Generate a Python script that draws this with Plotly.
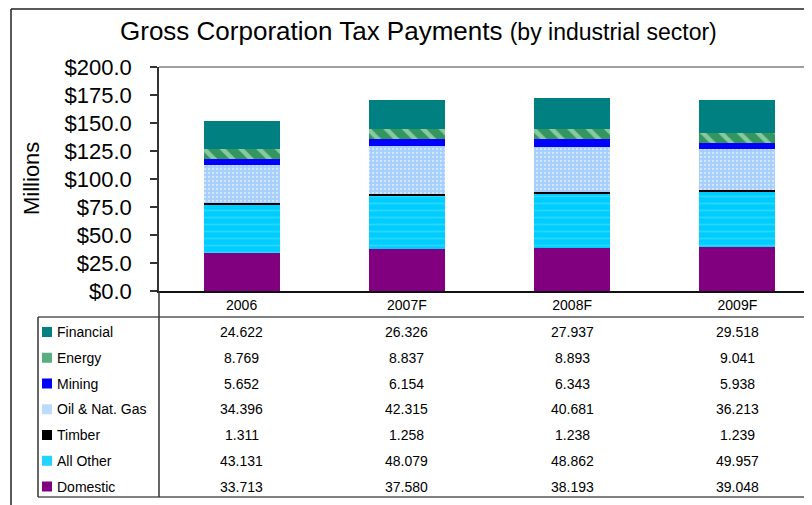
import plotly.graph_objects as go

W, H = 812, 505
OFF = 8  # page body margin compensation

categories = ["2006", "2007F", "2008F", "2009F"]

# stacking order, bottom to top
domestic = [33.713, 37.580, 38.193, 39.048]
all_other = [43.131, 48.079, 48.862, 49.957]
timber = [1.311, 1.258, 1.238, 1.239]
oil_gas = [34.396, 42.315, 40.681, 36.213]
mining = [5.652, 6.154, 6.343, 5.938]
energy = [8.769, 8.837, 8.893, 9.041]
financial = [24.622, 26.326, 27.937, 29.518]

series_names = ["Domestic", "All Other", "Timber", "Oil & Nat. Gas", "Mining", "Energy", "Financial"]
series_values = [domestic, all_other, timber, oil_gas, mining, energy, financial]

y_ticks = [0, 25, 50, 75, 100, 125, 150, 175, 200]

styles = {
    "Domestic": dict(color="#800080"),
    "All Other": dict(color="#00ccff", pattern=dict(shape="-", bgcolor="#00ccff", fgcolor="#4fe3ff", size=7, solidity=0.25)),
    "Timber": dict(color="#000000"),
    "Oil & Nat. Gas": dict(color="#a6cfff", pattern=dict(shape=".", bgcolor="#a6cfff", fgcolor="#ffffff", size=4, solidity=0.25)),
    "Mining": dict(color="#0000ff"),
    "Energy": dict(color="#33955f", pattern=dict(shape="\\", bgcolor="#33955f", fgcolor="#dcffdc", size=13, solidity=0.35)),
    "Financial": dict(color="#008080"),
}
key_colors = {
    "Domestic": "#800080", "All Other": "#22d4ff", "Timber": "#000000",
    "Oil & Nat. Gas": "#bcdcff", "Mining": "#0000ff", "Energy": "#5aae80", "Financial": "#008080",
}


def px(x):
    return (x - OFF) / W


def py(y):
    return 1 - (y - OFF) / H


fig = go.Figure()
for name, vals in zip(series_names, series_values):
    st = styles[name]
    marker = dict(color=st["color"], line=dict(width=0))
    if "pattern" in st:
        marker["pattern"] = st["pattern"]
    fig.add_trace(go.Bar(x=categories, y=vals, name=name, marker=marker, width=0.46, showlegend=False))

FONT = "Arial, Liberation Sans, sans-serif"

annotations = []
annotations.append(dict(
    text="Gross Corporation Tax Payments <span style='font-size:23px'>(by industrial sector)</span>",
    x=px(418), y=py(31), xref="paper", yref="paper", xanchor="center", yanchor="middle",
    showarrow=False, font=dict(family=FONT, size=26, color="#000")))
annotations.append(dict(
    text="Millions", x=px(31), y=py(179), xref="paper", yref="paper", textangle=-90,
    xanchor="center", yanchor="middle", showarrow=False, font=dict(family=FONT, size=22, color="#000")))

shapes = []
row0, row_step = 332, 25.75
for i, (name, vals) in enumerate(zip(series_names[::-1], series_values[::-1])):
    yc = row0 + i * row_step
    shapes.append(dict(type="rect", xref="paper", yref="paper", x0=px(42), x1=px(52),
                       y0=py(yc - 5), y1=py(yc + 5), fillcolor=key_colors[name], line=dict(width=0)))
    annotations.append(dict(text=name, x=px(55), y=py(yc), xref="paper", yref="paper",
                            xanchor="left", yanchor="middle", showarrow=False,
                            font=dict(family=FONT, size=14, color="#000")))
    for j, v in enumerate(vals):
        annotations.append(dict(text=f"{v:.3f}", x=j, y=py(yc), xref="x", yref="paper",
                                xanchor="center", yanchor="middle", showarrow=False,
                                font=dict(family=FONT, size=14, color="#000")))

shapes += [
    dict(type="line", xref="paper", yref="paper", x0=px(11), x1=px(830), y0=py(9), y1=py(9), line=dict(color="#222", width=1.5)),
    dict(type="line", xref="paper", yref="paper", x0=px(11), x1=px(11), y0=py(9), y1=py(520), line=dict(color="#222", width=1.5)),
    dict(type="line", xref="paper", yref="paper", x0=px(159), x1=px(830), y0=py(67), y1=py(67), line=dict(color="#a0a0a0", width=2)),
    dict(type="line", xref="paper", yref="paper", x0=px(38), x1=px(830), y0=py(317), y1=py(317), line=dict(color="#808080", width=2)),
    dict(type="line", xref="paper", yref="paper", x0=px(38), x1=px(830), y0=py(497), y1=py(497), line=dict(color="#808080", width=2)),
    dict(type="line", xref="paper", yref="paper", x0=px(38), x1=px(38), y0=py(317), y1=py(497), line=dict(color="#333", width=1.5)),
    dict(type="line", xref="paper", yref="paper", x0=px(159), x1=px(159), y0=py(291), y1=py(497), line=dict(color="#333", width=1.5)),
]

fig.update_layout(
    width=W, height=H, margin=dict(l=0, r=0, t=0, b=0, pad=0, autoexpand=False),
    paper_bgcolor="white", plot_bgcolor="white",
    barmode="stack",
    font=dict(family=FONT, color="#000"),
    annotations=annotations, shapes=shapes,
    xaxis=dict(type="category", range=[-0.5, 3.5], domain=[px(159), px(812 + OFF)], showgrid=False,
               showline=True, linecolor="#111", linewidth=2, automargin=False,
               ticks="", tickfont=dict(family=FONT, size=14, color="#000")),
    yaxis=dict(domain=[py(291), py(67)], range=[0, 200], tickvals=y_ticks, automargin=False,
               ticktext=[f"${v:.1f}" for v in y_ticks], showgrid=False, zeroline=False,
               showline=True, linecolor="#333", linewidth=1.5, ticks="outside", ticklen=7,
               tickcolor="#333", tickwidth=1.5, ticklabelstandoff=14,
               tickfont=dict(family=FONT, size=22, color="#000")),
)

fig.write_html("out.html")
